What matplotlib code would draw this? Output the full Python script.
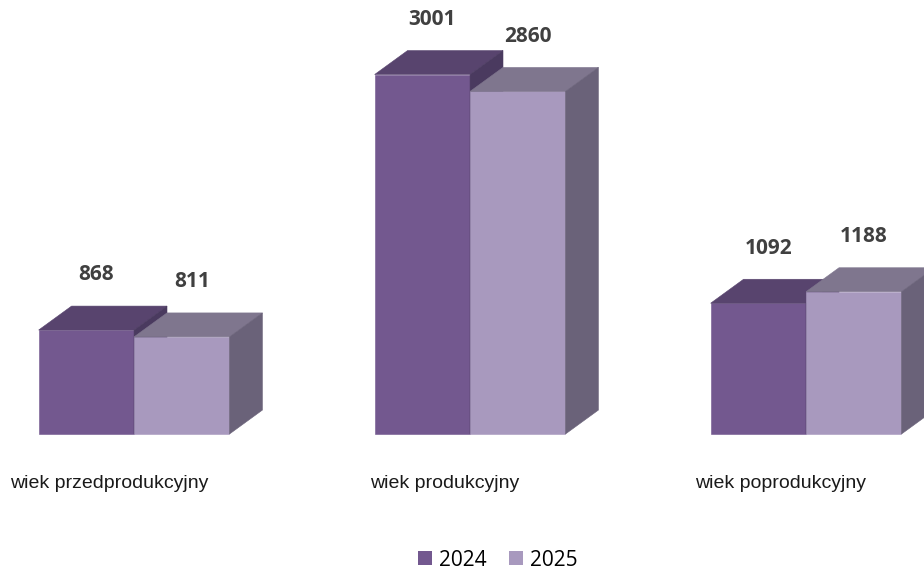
import matplotlib
matplotlib.use('Agg')
import matplotlib.pyplot as plt
from matplotlib.patches import Polygon, Patch
import numpy as np

categories = ['wiek przedprodukcyjny', 'wiek produkcyjny', 'wiek poprodukcyjny']
years = ['2024', '2025']
values_2024 = [868, 3001, 1092]
values_2025 = [811, 2860, 1188]

# colours: front, top, side
col_2024 = ('#73588f', '#58446e', '#4a3a5f')
col_2025 = ('#a899be', '#7f768e', '#6a6279')

fig = plt.figure(figsize=(9.24, 5.7), dpi=100)
ax = fig.add_axes([0, 0, 1, 1])
ax.set_xlim(-0.399, 2.351)
ax.set_ylim(-1135, 3623)
ax.axis('off')

w = 0.284     # bar width (x units)
dx = 0.098    # depth offset x
dy = 200      # depth offset y (value units)


def bar3d(x0, h, cols):
    front, top, side = cols
    ax.bar(x0, h, width=w, align='edge', color=front, edgecolor=front, linewidth=0.4)
    ax.add_patch(Polygon([(x0, h), (x0 + w, h), (x0 + w + dx, h + dy), (x0 + dx, h + dy)],
                         closed=True, facecolor=top, edgecolor=top, linewidth=0.4))
    ax.add_patch(Polygon([(x0 + w, 0), (x0 + w + dx, dy), (x0 + w + dx, h + dy), (x0 + w, h)],
                         closed=True, facecolor=side, edgecolor=side, linewidth=0.4))


x = np.arange(len(categories))
for i in x:
    bar3d(i - w, values_2024[i], col_2024)
    bar3d(i, values_2025[i], col_2025)
    for xs, v in [(i - w / 2, values_2024[i]), (i + w / 2, values_2025[i])]:
        ax.text(xs + 0.03, v + 460, str(v), ha='center', va='center',
                fontsize=15, fontweight='bold', color='#404040', family='Open Sans')
    ax.text(i - 0.075, -417, categories[i], ha='center', va='center',
            fontsize=14, color='#1a1a1a', family='Liberation Sans')

handles = [Patch(facecolor=col_2024[0], label=years[0]),
           Patch(facecolor=col_2025[0], label=years[1])]
fig.legend(handles=handles, loc='center', bbox_to_anchor=(498 / 924, 1 - 560 / 570),
           ncol=2, frameon=False, handlelength=0.65, handleheight=0.65,
           handletextpad=0.35, columnspacing=1.1,
           prop={'family': 'Open Sans', 'size': 15})

fig.savefig('out.png', dpi=100)
